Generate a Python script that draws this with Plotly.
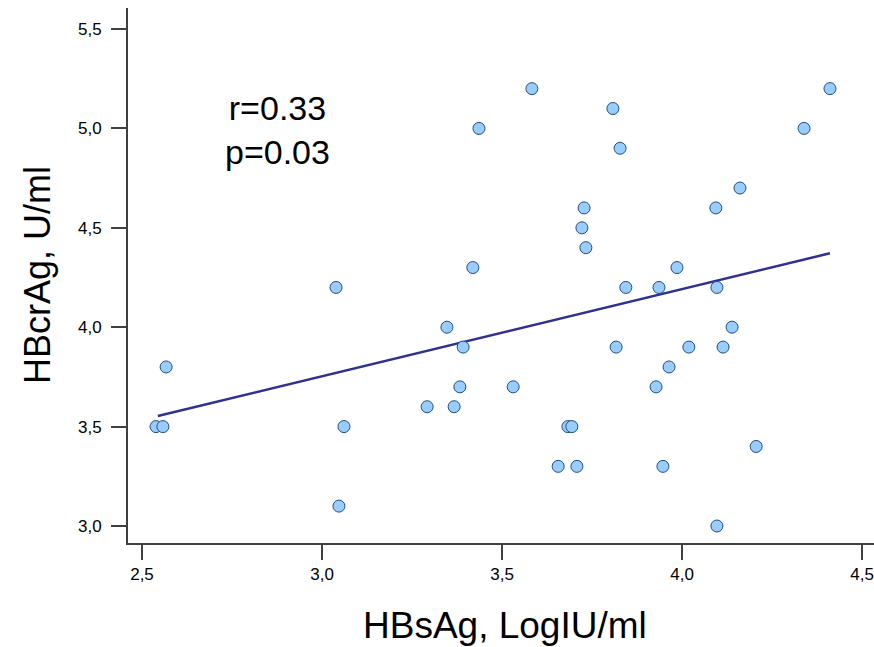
import plotly.graph_objects as go

# Data
hbsag_log = [2.539, 2.558, 2.567, 3.039, 3.047, 3.061, 3.292, 3.347, 3.367, 3.383,
             3.392, 3.419, 3.436, 3.531, 3.583, 3.656, 3.683, 3.694, 3.708, 3.722,
             3.728, 3.733, 3.808, 3.817, 3.828, 3.844, 3.928, 3.936, 3.947, 3.964,
             3.986, 4.019, 4.094, 4.097, 4.097, 4.114, 4.139, 4.161, 4.206, 4.339,
             4.411]
hbcrag = [3.5, 3.5, 3.8, 4.2, 3.1, 3.5, 3.6, 4.0, 3.6, 3.7,
          3.9, 4.3, 5.0, 3.7, 5.2, 3.3, 3.5, 3.5, 3.3, 4.5,
          4.6, 4.4, 5.1, 3.9, 4.9, 4.2, 3.7, 4.2, 3.3, 3.8,
          4.3, 3.9, 4.6, 4.2, 3.0, 3.9, 4.0, 4.7, 3.4, 5.0,
          5.2]

# Fitted regression line endpoints
fit_x = [2.544, 4.411]
fit_y = [3.553, 4.372]

x_ticks = [2.5, 3.0, 3.5, 4.0, 4.5]
y_ticks = [3.0, 3.5, 4.0, 4.5, 5.0, 5.5]

stats_text = "r=0.33<br>p=0.03"
x_title = "HBsAg, LogIU/ml"
y_title = "HBcrAg, U/ml"

FONT = "Arial, Liberation Sans, sans-serif"
AXIS_COLOR = "#404040"

fig = go.Figure()

fig.add_trace(go.Scatter(
    x=fit_x, y=fit_y, mode="lines",
    line=dict(color="#2E3192", width=2.5),
    hoverinfo="skip", showlegend=False,
))

fig.add_trace(go.Scatter(
    x=hbsag_log, y=hbcrag, mode="markers",
    marker=dict(size=12, color="#99CCFF",
                line=dict(color="#1F4E79", width=1)),
    showlegend=False,
))

axis_common = dict(
    showgrid=False, zeroline=False,
    showline=True, linecolor=AXIS_COLOR, linewidth=2,
    ticks="outside", ticklen=15, tickwidth=2, tickcolor=AXIS_COLOR,
    tickfont=dict(family=FONT, size=17, color="#000000"),
    tickformat=".1f",
)

fig.update_xaxes(range=[2.4611, 4.5333], tickvals=x_ticks,
                 ticklabelstandoff=0, **axis_common)
fig.update_yaxes(range=[2.9145, 5.6056], tickvals=y_ticks,
                 ticklabelstandoff=6, **axis_common)

fig.add_annotation(
    x=2.875, y=4.99, xref="x", yref="y",
    text=stats_text, showarrow=False,
    font=dict(family=FONT, size=34, color="#000000"),
    align="center", xanchor="center", yanchor="middle",
)

fig.add_annotation(
    x=0.505, y=-0.155, xref="paper", yref="paper",
    text=x_title, showarrow=False,
    font=dict(family=FONT, size=37, color="#000000"),
    xanchor="center", yanchor="middle",
)

fig.add_annotation(
    x=-0.1206, y=0.501, xref="paper", yref="paper",
    text=y_title, showarrow=False, textangle=-90,
    font=dict(family=FONT, size=36, color="#000000"),
    xanchor="center", yanchor="middle",
)

fig.update_layout(
    width=874, height=647,
    margin=dict(l=128, r=0, t=8, b=104),
    plot_bgcolor="white", paper_bgcolor="white",
    separators=", ",
    font=dict(family=FONT),
)

fig.write_html("out.html")
